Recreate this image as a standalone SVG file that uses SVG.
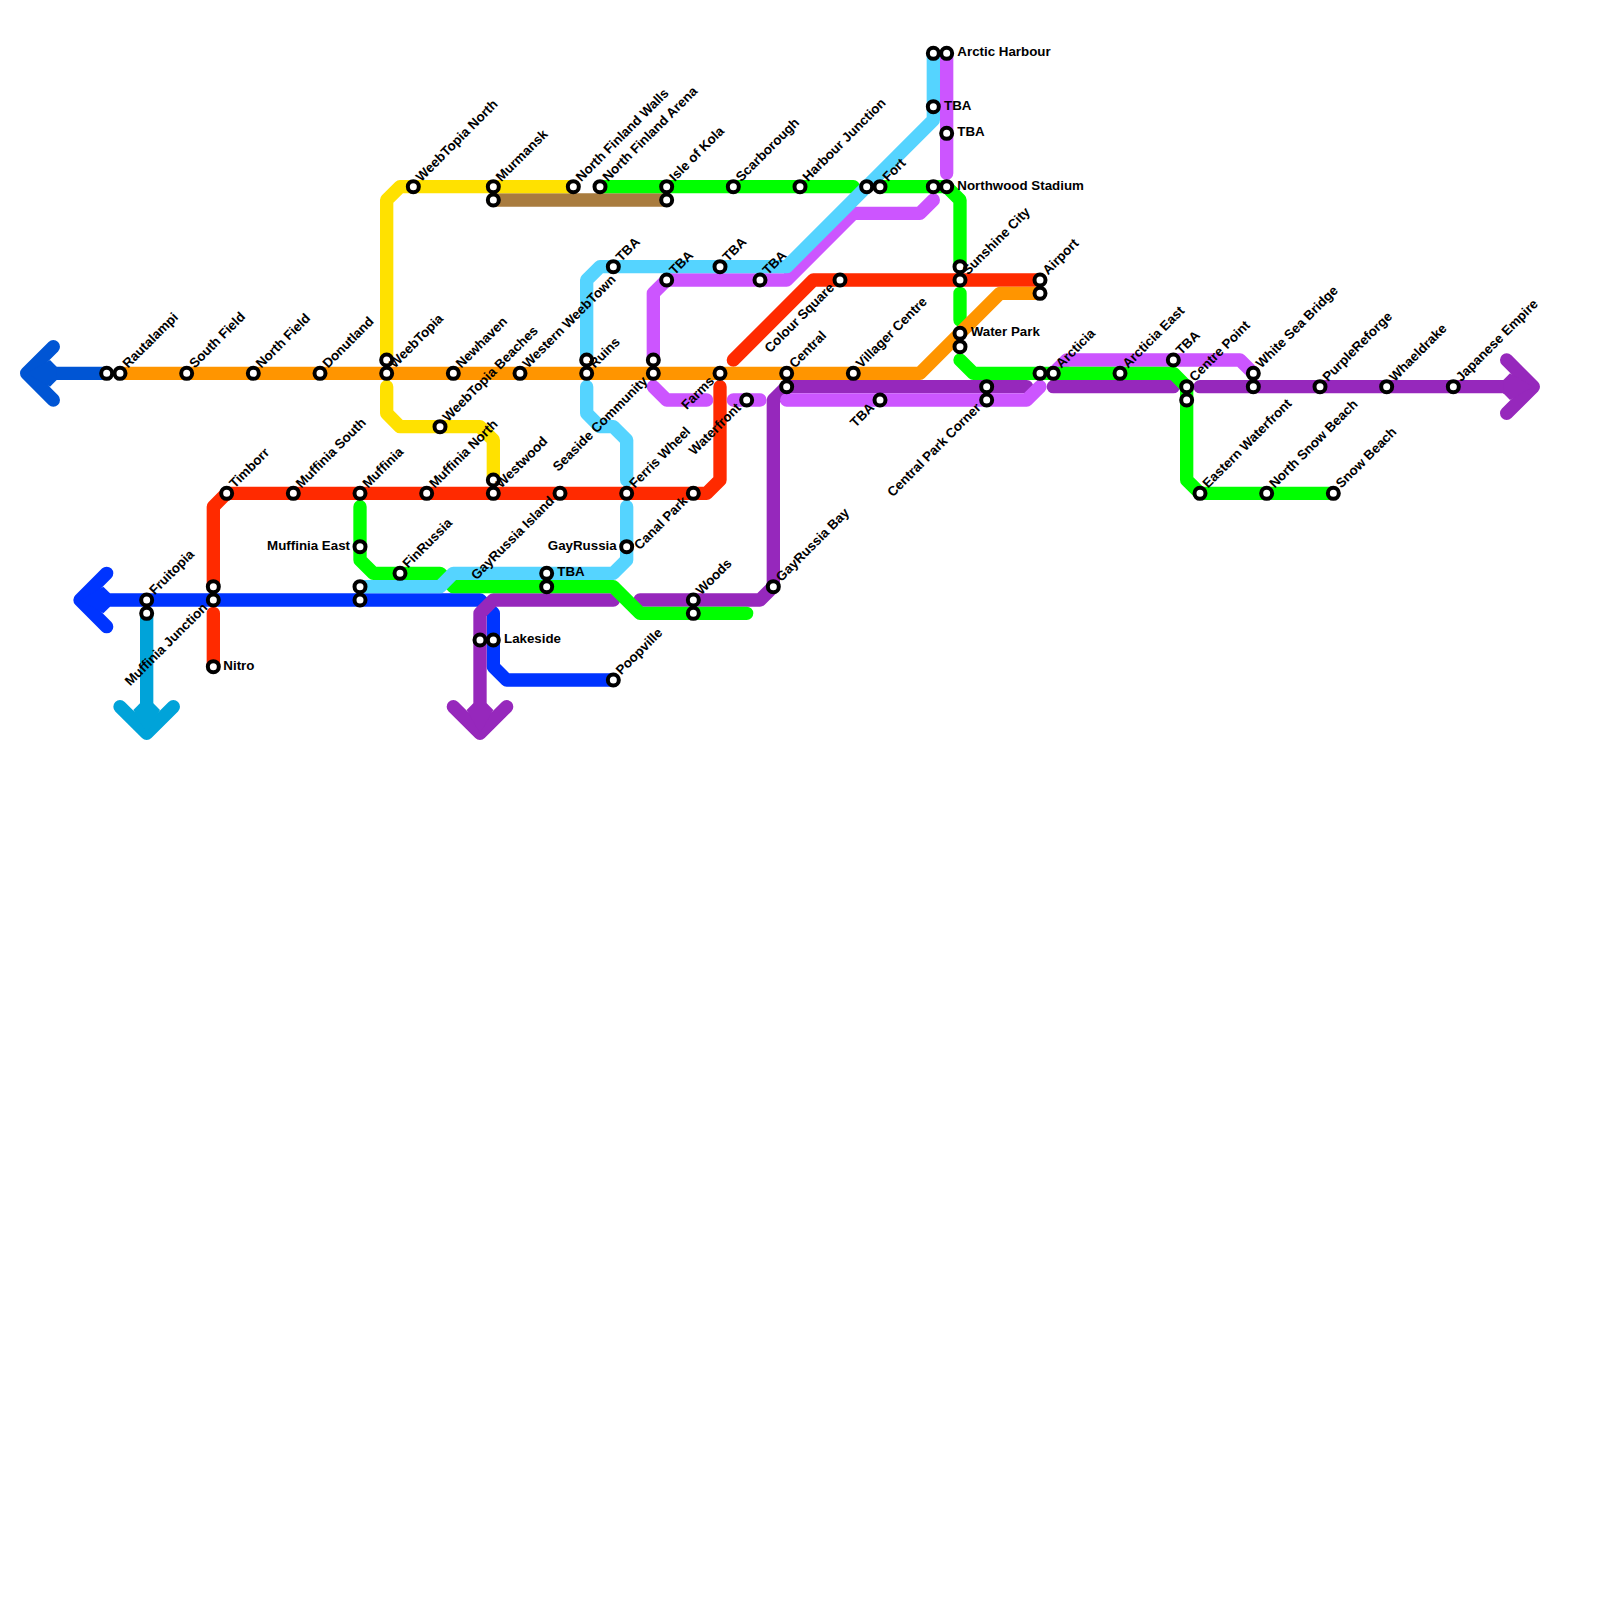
<svg xmlns="http://www.w3.org/2000/svg" width="1600" height="1600" viewBox="0 0 1600 1600">
<style>
.l{fill:none;stroke-width:13.33;stroke-linecap:round;stroke-linejoin:round}
.st{fill:#fff;stroke:#000;stroke-width:4}
text{font-family:"Liberation Sans",Arial,sans-serif;font-weight:700;font-size:13.33px;fill:#000}
.e{text-anchor:end}
</style>
<rect width="1600" height="1600" fill="#fff"/>
<g id="connectors">
<path class="l" stroke="#a97c3f" d="M493.33 200H666.67"/>
<path class="l" stroke="#ffe100" d="M573.33 186.67H400L386.67 200V360M386.67 386.67V413.33L400 426.67H480L493.33 440V480"/>
<path class="l" stroke="#ff2a00" d="M213.33 586.67V506.67L226.67 493.33H706.67L720 480V386.67M733.33 360L813.33 280H1040M213.33 613.33V666.67"/>
<path class="l" stroke="#0034ff" d="M106.67 573.33L80 600L106.67 626.67M80 600H480L493.33 613.33V666.67L506.67 680H613.33"/>
<polygon fill="#0034ff" points="80,600 103.33,586.67 110,593.33 110,606.67 103.33,613.33"/>
<path class="l" stroke="#0055d4" d="M53.33 346.67L26.67 373.33L53.33 400M26.67 373.33H106.67"/>
<polygon fill="#0055d4" points="26.67,373.33 50,360 56.67,366.67 56.67,380 50,386.67"/>
<path class="l" stroke="#00a3d9" d="M120 706.67L146.67 733.33L173.33 706.67M146.67 613.33V733.33"/>
<polygon fill="#00a3d9" points="146.67,733.33 133.33,710 140,703.33 153.33,703.33 160,710"/>
<path class="l" stroke="#9628bc" d="M453.33 706.67L480 733.33L506.67 706.67M480 733.33V613.33L493.33 600H613.33M640 600H760L773.33 586.67V400L786.67 386.67H1026.67M1053.33 386.67H1173.33M1200 386.67H1533.33M1506.67 360L1533.33 386.67L1506.67 413.33"/>
<polygon fill="#9628bc" points="480,733.33 466.67,710 473.33,703.33 486.67,703.33 493.33,710"/>
<polygon fill="#9628bc" points="1533.33,386.67 1510,373.33 1503.33,380 1503.33,393.33 1510,400"/>
<path class="l" stroke="#cc55ff" d="M946.67 53.33V173.33M933.33 200L920 213.33H853.33L786.67 280H666.67L653.33 293.33V360M653.33 386.67L666.67 400H706.67M733.33 400H760M786.67 400H1026.67L1040 386.67M1053.33 373.33L1066.67 360H1240L1253.33 373.33"/>
<path class="l" stroke="#00ff00" d="M600 186.67H853.33M880 186.67H946.67L960 200V266.67M960 293.33V320M960 360L973.33 373.33H1173.33L1186.67 386.67V480L1200 493.33H1333.33M360 506.67V560L373.33 573.33H440L453.33 586.67H613.33L640 613.33H746.67"/>
<path class="l" stroke="#55d4ff" d="M933.33 53.33V120L786.67 266.67H600L586.67 280V360M586.67 386.67V413.33L600 426.67H613.33L626.67 440V480M626.67 506.67V560L613.33 573.33H453.33L440 586.67H360"/>
<path class="l" stroke="#ff9500" d="M120 373.33H920L1000 293.33H1040"/>
</g>
<g id="s1" transform="translate(106.67 373.33)"><circle class="st" r="5.5"/></g>
<g id="s2" transform="translate(120 373.33)"><circle class="st" r="5.5"/><text transform="translate(8 -4.5) rotate(-45)">Rautalampi</text></g>
<g id="s3" transform="translate(186.67 373.33)"><circle class="st" r="5.5"/><text transform="translate(8 -4.5) rotate(-45)">South Field</text></g>
<g id="s4" transform="translate(253.33 373.33)"><circle class="st" r="5.5"/><text transform="translate(8 -4.5) rotate(-45)">North Field</text></g>
<g id="s5" transform="translate(320 373.33)"><circle class="st" r="5.5"/><text transform="translate(8 -4.5) rotate(-45)">Donutland</text></g>
<g id="s6" transform="translate(386.67 360)"><circle class="st" r="5.5"/></g>
<g id="s7" transform="translate(386.67 373.33)"><circle class="st" r="5.5"/><text transform="translate(8 -4.5) rotate(-45)">WeebTopia</text></g>
<g id="s8" transform="translate(453.33 373.33)"><circle class="st" r="5.5"/><text transform="translate(8 -4.5) rotate(-45)">Newhaven</text></g>
<g id="s9" transform="translate(520 373.33)"><circle class="st" r="5.5"/><text transform="translate(8 -4.5) rotate(-45)">Western WeebTown</text></g>
<g id="s10" transform="translate(586.67 360)"><circle class="st" r="5.5"/></g>
<g id="s11" transform="translate(586.67 373.33)"><circle class="st" r="5.5"/><text transform="translate(8 -4.5) rotate(-45)">Ruins</text></g>
<g id="s12" transform="translate(653.33 360)"><circle class="st" r="5.5"/></g>
<g id="s13" transform="translate(653.33 373.33)"><circle class="st" r="5.5"/><text class="e" transform="translate(-5 8.5) rotate(-45)">Seaside Community</text></g>
<g id="s14" transform="translate(720 373.33)"><circle class="st" r="5.5"/><text class="e" transform="translate(-5 8.5) rotate(-45)">Farms</text></g>
<g id="s15" transform="translate(786.67 373.33)"><circle class="st" r="5.5"/><text transform="translate(8 -4.5) rotate(-45)">Central</text></g>
<g id="s16" transform="translate(786.67 386.67)"><circle class="st" r="5.5"/></g>
<g id="s17" transform="translate(853.33 373.33)"><circle class="st" r="5.5"/><text transform="translate(8 -4.5) rotate(-45)">Villager Centre</text></g>
<g id="s18" transform="translate(440 426.67)"><circle class="st" r="5.5"/><text transform="translate(8 -4.5) rotate(-45)">WeebTopia Beaches</text></g>
<g id="s19" transform="translate(226.67 493.33)"><circle class="st" r="5.5"/><text transform="translate(8 -4.5) rotate(-45)">Timborr</text></g>
<g id="s20" transform="translate(293.33 493.33)"><circle class="st" r="5.5"/><text transform="translate(8 -4.5) rotate(-45)">Muffinia South</text></g>
<g id="s21" transform="translate(360 493.33)"><circle class="st" r="5.5"/><text transform="translate(8 -4.5) rotate(-45)">Muffinia</text></g>
<g id="s22" transform="translate(426.67 493.33)"><circle class="st" r="5.5"/><text transform="translate(8 -4.5) rotate(-45)">Muffinia North</text></g>
<g id="s23" transform="translate(493.33 480)"><circle class="st" r="5.5"/></g>
<g id="s24" transform="translate(493.33 493.33)"><circle class="st" r="5.5"/><text transform="translate(8 -4.5) rotate(-45)">Westwood</text></g>
<g id="s25" transform="translate(560 493.33)"><circle class="st" r="5.5"/><text class="e" transform="translate(-5 8.5) rotate(-45)">GayRussia Island</text></g>
<g id="s26" transform="translate(626.67 493.33)"><circle class="st" r="5.5"/><text transform="translate(8 -4.5) rotate(-45)">Ferris Wheel</text></g>
<g id="s27" transform="translate(693.33 493.33)"><circle class="st" r="5.5"/><text class="e" transform="translate(-5 8.5) rotate(-45)">Canal Park</text></g>
<g id="s28" transform="translate(360 546.67)"><circle class="st" r="5.5"/><text class="e" x="-10" y="3">Muffinia East</text></g>
<g id="s29" transform="translate(626.67 546.67)"><circle class="st" r="5.5"/><text class="e" x="-10" y="3">GayRussia</text></g>
<g id="s30" transform="translate(400 573.33)"><circle class="st" r="5.5"/><text transform="translate(8 -4.5) rotate(-45)">FinRussia</text></g>
<g id="s31" transform="translate(546.67 573.33)"><circle class="st" r="5.5"/><text x="10.67" y="3">TBA</text></g>
<g id="s32" transform="translate(546.67 586.67)"><circle class="st" r="5.5"/></g>
<g id="s33" transform="translate(360 586.67)"><circle class="st" r="5.5"/></g>
<g id="s34" transform="translate(360 600)"><circle class="st" r="5.5"/></g>
<g id="s35" transform="translate(146.67 600)"><circle class="st" r="5.5"/><text transform="translate(8 -4.5) rotate(-45)">Fruitopia</text></g>
<g id="s36" transform="translate(146.67 613.33)"><circle class="st" r="5.5"/></g>
<g id="s37" transform="translate(213.33 586.67)"><circle class="st" r="5.5"/></g>
<g id="s38" transform="translate(213.33 600)"><circle class="st" r="5.5"/><text class="e" transform="translate(-5 8.5) rotate(-45)">Muffinia Junction</text></g>
<g id="s39" transform="translate(213.33 666.67)"><circle class="st" r="5.5"/><text x="10" y="3">Nitro</text></g>
<g id="s40" transform="translate(480 640)"><circle class="st" r="5.5"/></g>
<g id="s41" transform="translate(493.33 640)"><circle class="st" r="5.5"/><text x="10.67" y="3">Lakeside</text></g>
<g id="s42" transform="translate(613.33 680)"><circle class="st" r="5.5"/><text transform="translate(8 -4.5) rotate(-45)">Poopville</text></g>
<g id="s43" transform="translate(693.33 600)"><circle class="st" r="5.5"/><text transform="translate(8 -4.5) rotate(-45)">Woods</text></g>
<g id="s44" transform="translate(693.33 613.33)"><circle class="st" r="5.5"/></g>
<g id="s45" transform="translate(773.33 586.67)"><circle class="st" r="5.5"/><text transform="translate(8 -4.5) rotate(-45)">GayRussia Bay</text></g>
<g id="s46" transform="translate(746.67 400)"><circle class="st" r="5.5"/><text class="e" transform="translate(-5 8.5) rotate(-45)">Waterfront</text></g>
<g id="s47" transform="translate(880 400)"><circle class="st" r="5.5"/><text class="e" transform="translate(-5 8.5) rotate(-45)">TBA</text></g>
<g id="s48" transform="translate(413.33 186.67)"><circle class="st" r="5.5"/><text transform="translate(8 -4.5) rotate(-45)">WeebTopia North</text></g>
<g id="s49" transform="translate(493.33 186.67)"><circle class="st" r="5.5"/><text transform="translate(8 -4.5) rotate(-45)">Murmansk</text></g>
<g id="s50" transform="translate(493.33 200)"><circle class="st" r="5.5"/></g>
<g id="s51" transform="translate(573.33 186.67)"><circle class="st" r="5.5"/><text transform="translate(8 -4.5) rotate(-45)">North Finland Walls</text></g>
<g id="s52" transform="translate(600 186.67)"><circle class="st" r="5.5"/><text transform="translate(8 -4.5) rotate(-45)">North Finland Arena</text></g>
<g id="s53" transform="translate(666.67 186.67)"><circle class="st" r="5.5"/><text transform="translate(8 -4.5) rotate(-45)">Isle of Kola</text></g>
<g id="s54" transform="translate(666.67 200)"><circle class="st" r="5.5"/></g>
<g id="s55" transform="translate(733.33 186.67)"><circle class="st" r="5.5"/><text transform="translate(8 -4.5) rotate(-45)">Scarborough</text></g>
<g id="s56" transform="translate(800 186.67)"><circle class="st" r="5.5"/><text transform="translate(8 -4.5) rotate(-45)">Harbour Junction</text></g>
<g id="s57" transform="translate(613.33 266.67)"><circle class="st" r="5.5"/><text transform="translate(8 -4.5) rotate(-45)">TBA</text></g>
<g id="s58" transform="translate(666.67 280)"><circle class="st" r="5.5"/><text transform="translate(8 -4.5) rotate(-45)">TBA</text></g>
<g id="s59" transform="translate(720 266.67)"><circle class="st" r="5.5"/><text transform="translate(8 -4.5) rotate(-45)">TBA</text></g>
<g id="s60" transform="translate(760 280)"><circle class="st" r="5.5"/><text transform="translate(8 -4.5) rotate(-45)">TBA</text></g>
<g id="s61" transform="translate(840 280)"><circle class="st" r="5.5"/><text class="e" transform="translate(-5 8.5) rotate(-45)">Colour Square</text></g>
<g id="s62" transform="translate(933.33 53.33)"><circle class="st" r="5.5"/></g>
<g id="s63" transform="translate(946.67 53.33)"><circle class="st" r="5.5"/><text x="10.67" y="3">Arctic Harbour</text></g>
<g id="s64" transform="translate(933.33 106.67)"><circle class="st" r="5.5"/><text x="10.67" y="3">TBA</text></g>
<g id="s65" transform="translate(946.67 133.33)"><circle class="st" r="5.5"/><text x="10.67" y="3">TBA</text></g>
<g id="s66" transform="translate(866.67 186.67)"><circle class="st" r="5.5"/></g>
<g id="s67" transform="translate(880 186.67)"><circle class="st" r="5.5"/><text transform="translate(8 -4.5) rotate(-45)">Fort</text></g>
<g id="s68" transform="translate(933.33 186.67)"><circle class="st" r="5.5"/></g>
<g id="s69" transform="translate(946.67 186.67)"><circle class="st" r="5.5"/><text x="10.67" y="3">Northwood Stadium</text></g>
<g id="s70" transform="translate(960 266.67)"><circle class="st" r="5.5"/></g>
<g id="s71" transform="translate(960 280)"><circle class="st" r="5.5"/><text transform="translate(8 -4.5) rotate(-45)">Sunshine City</text></g>
<g id="s72" transform="translate(1040 280)"><circle class="st" r="5.5"/><text transform="translate(8 -4.5) rotate(-45)">Airport</text></g>
<g id="s73" transform="translate(1040 293.33)"><circle class="st" r="5.5"/></g>
<g id="s74" transform="translate(960 333.33)"><circle class="st" r="5.5"/><text x="10.67" y="3">Water Park</text></g>
<g id="s75" transform="translate(960 346.67)"><circle class="st" r="5.5"/></g>
<g id="s76" transform="translate(1040 373.33)"><circle class="st" r="5.5"/></g>
<g id="s77" transform="translate(1053.33 373.33)"><circle class="st" r="5.5"/><text transform="translate(8 -4.5) rotate(-45)">Arcticia</text></g>
<g id="s78" transform="translate(986.67 386.67)"><circle class="st" r="5.5"/></g>
<g id="s79" transform="translate(986.67 400)"><circle class="st" r="5.5"/><text class="e" transform="translate(-5 8.5) rotate(-45)">Central Park Corner</text></g>
<g id="s80" transform="translate(1120 373.33)"><circle class="st" r="5.5"/><text transform="translate(8 -4.5) rotate(-45)">Arcticia East</text></g>
<g id="s81" transform="translate(1173.33 360)"><circle class="st" r="5.5"/><text transform="translate(8 -4.5) rotate(-45)">TBA</text></g>
<g id="s82" transform="translate(1186.67 386.67)"><circle class="st" r="5.5"/><text transform="translate(8 -4.5) rotate(-45)">Centre Point</text></g>
<g id="s83" transform="translate(1186.67 400)"><circle class="st" r="5.5"/></g>
<g id="s84" transform="translate(1253.33 373.33)"><circle class="st" r="5.5"/><text transform="translate(8 -4.5) rotate(-45)">White Sea Bridge</text></g>
<g id="s85" transform="translate(1253.33 386.67)"><circle class="st" r="5.5"/></g>
<g id="s86" transform="translate(1320 386.67)"><circle class="st" r="5.5"/><text transform="translate(8 -4.5) rotate(-45)">PurpleReforge</text></g>
<g id="s87" transform="translate(1386.67 386.67)"><circle class="st" r="5.5"/><text transform="translate(8 -4.5) rotate(-45)">Whaeldrake</text></g>
<g id="s88" transform="translate(1453.33 386.67)"><circle class="st" r="5.5"/><text transform="translate(8 -4.5) rotate(-45)">Japanese Empire</text></g>
<g id="s89" transform="translate(1200 493.33)"><circle class="st" r="5.5"/><text transform="translate(8 -4.5) rotate(-45)">Eastern Waterfront</text></g>
<g id="s90" transform="translate(1266.67 493.33)"><circle class="st" r="5.5"/><text transform="translate(8 -4.5) rotate(-45)">North Snow Beach</text></g>
<g id="s91" transform="translate(1333.33 493.33)"><circle class="st" r="5.5"/><text transform="translate(8 -4.5) rotate(-45)">Snow Beach</text></g>
</svg>
